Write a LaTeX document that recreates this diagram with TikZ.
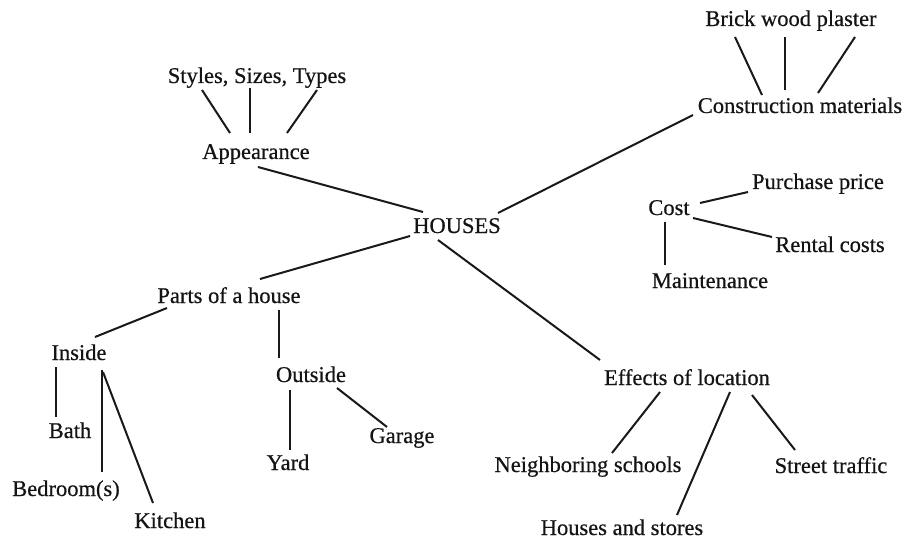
\documentclass[tikz,border=0pt]{standalone}
\usepackage{fontspec}
\setmainfont{Liberation Serif}[FakeBold=0.5]
\begin{document}
\begin{tikzpicture}[x=1pt,y=-1pt,
  lbl/.style={inner sep=0pt, anchor=base, text=black!92, font=\fontsize{22.5}{27}\selectfont},
  con/.style={line width=2pt, draw=black!90}]
\useasboundingbox[fill=white] (0,0) rectangle (909,540);
% nodes (x centre, baseline)
\node[lbl] (sst) at (257,83) {Styles, Sizes, Types};
\node[lbl] (app) at (256,159) {Appearance};
\node[lbl] (hou) at (457,233) {HOUSES};
\node[lbl] (bwp) at (791,26) {Brick wood plaster};
\node[lbl] (cmat) at (800,113) {Construction materials};
\node[lbl] (cost) at (669,215) {Cost};
\node[lbl] (pur) at (818,189) {Purchase price};
\node[lbl] (ren) at (830,252) {Rental costs};
\node[lbl] (mai) at (710,288) {Maintenance};
\node[lbl] (par) at (229,303) {Parts of a house};
\node[lbl] (ins) at (79,360) {Inside};
\node[lbl] (out) at (311,382) {Outside};
\node[lbl] (bat) at (70,438) {Bath};
\node[lbl] (bed) at (66,496) {Bedroom(s)};
\node[lbl] (kit) at (170,528) {Kitchen};
\node[lbl] (yard) at (288,470) {Yard};
\node[lbl] (gar) at (402,443) {Garage};
\node[lbl] (eff) at (687,385) {Effects of location};
\node[lbl] (nei) at (588,472) {Neighboring schools};
\node[lbl] (hs) at (622,535) {Houses and stores};
\node[lbl] (st) at (831,473) {Street traffic};
% connectors
\draw[con] ([shift={(-55,7)}]sst.base) -- ([shift={(-26,-26)}]app.base);
\draw[con] ([shift={(-7,5)}]sst.base) -- ([shift={(-6,-26)}]app.base);
\draw[con] ([shift={(60,7)}]sst.base) -- ([shift={(31,-26)}]app.base);
\draw[con] ([shift={(2,8)}]app.base) -- ([shift={(-34,-21)}]hou.base);
\draw[con] ([shift={(41,-20)}]hou.base) -- ([shift={(-107,2)}]cmat.base);
\draw[con] ([shift={(-56,11)}]bwp.base) -- ([shift={(-38,-18)}]cmat.base);
\draw[con] ([shift={(-6,11)}]bwp.base) -- ([shift={(-15,-23)}]cmat.base);
\draw[con] ([shift={(64,11)}]bwp.base) -- ([shift={(18,-20)}]cmat.base);
\draw[con] ([shift={(31,-12)}]cost.base) -- ([shift={(-70,3)}]pur.base);
\draw[con] ([shift={(24,3)}]cost.base) -- ([shift={(-58,-15)}]ren.base);
\draw[con] ([shift={(-4,7)}]cost.base) -- ([shift={(-45,-23)}]mai.base);
\draw[con] ([shift={(-47,3)}]hou.base) -- ([shift={(31,-24)}]par.base);
\draw[con] ([shift={(-62,5)}]par.base) -- ([shift={(16,-23)}]ins.base);
\draw[con] ([shift={(50,7)}]par.base) -- ([shift={(-32,-24)}]out.base);
\draw[con] ([shift={(-23,7)}]ins.base) -- ([shift={(-14,-21)}]bat.base);
\draw[con] ([shift={(23,10)}]ins.base) -- ([shift={(36,-24)}]bed.base);
\draw[con] ([shift={(24,12)}]ins.base) -- ([shift={(-17,-25)}]kit.base);
\draw[con] ([shift={(-21,8)}]out.base) -- ([shift={(2,-20)}]yard.base);
\draw[con] ([shift={(26,6)}]out.base) -- ([shift={(-15,-16)}]gar.base);
\draw[con] ([shift={(-19,7)}]hou.base) -- ([shift={(-87,-25)}]eff.base);
\draw[con] ([shift={(-27,7)}]eff.base) -- ([shift={(24,-19)}]nei.base);
\draw[con] ([shift={(43,7)}]eff.base) -- ([shift={(55,-20)}]hs.base);
\draw[con] ([shift={(65,10)}]eff.base) -- ([shift={(-36,-23)}]st.base);
\end{tikzpicture}
\end{document}
